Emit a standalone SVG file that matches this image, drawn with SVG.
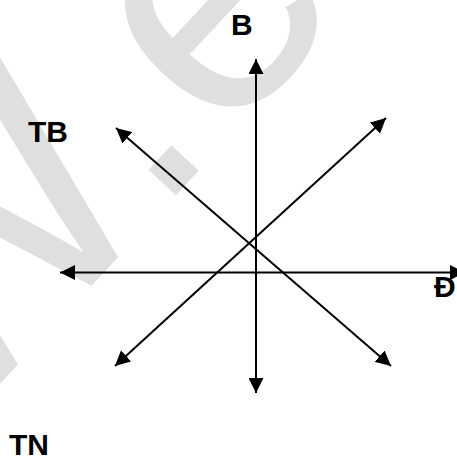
<svg xmlns="http://www.w3.org/2000/svg" width="457" height="458" viewBox="0 0 457 458">
<style>
.lbl{font-family:"Liberation Sans",Arial,sans-serif;font-weight:bold;font-size:30px;fill:#000}
.ax{stroke:#000;stroke-width:2;fill:none;marker-start:url(#ah);marker-end:url(#ah)}
.wm{font-family:"Liberation Sans",Arial,sans-serif;font-size:350px;fill:#dfdfdf}
</style>
<defs>
<marker id="ah" viewBox="0 0 15 15" refX="15" refY="7.5" markerWidth="15" markerHeight="15" markerUnits="userSpaceOnUse" orient="auto-start-reverse"><path d="M0,0 L15,7.5 L0,15 z" fill="#000"/></marker>
</defs>
<rect width="457" height="458" fill="#fff"/>
<g id="watermark"><text class="wm" transform="translate(-58,446) rotate(-47)">W.e</text></g>
<g id="connectors">
<line class="ax" x1="256" y1="393" x2="256" y2="59"/>
<line class="ax" x1="465" y1="272.5" x2="60" y2="272.5"/>
<line class="ax" x1="391" y1="366" x2="116" y2="128"/>
<line class="ax" x1="115" y1="366" x2="386" y2="118"/>
</g>
<g id="node-B"><text class="lbl" x="231" y="35">B</text></g>
<g id="node-TB"><text class="lbl" x="28" y="142">TB</text></g>
<g id="node-D"><text class="lbl" x="434" y="297">Đ</text></g>
<g id="node-TN"><text class="lbl" x="9" y="455">TN</text></g>
</svg>
